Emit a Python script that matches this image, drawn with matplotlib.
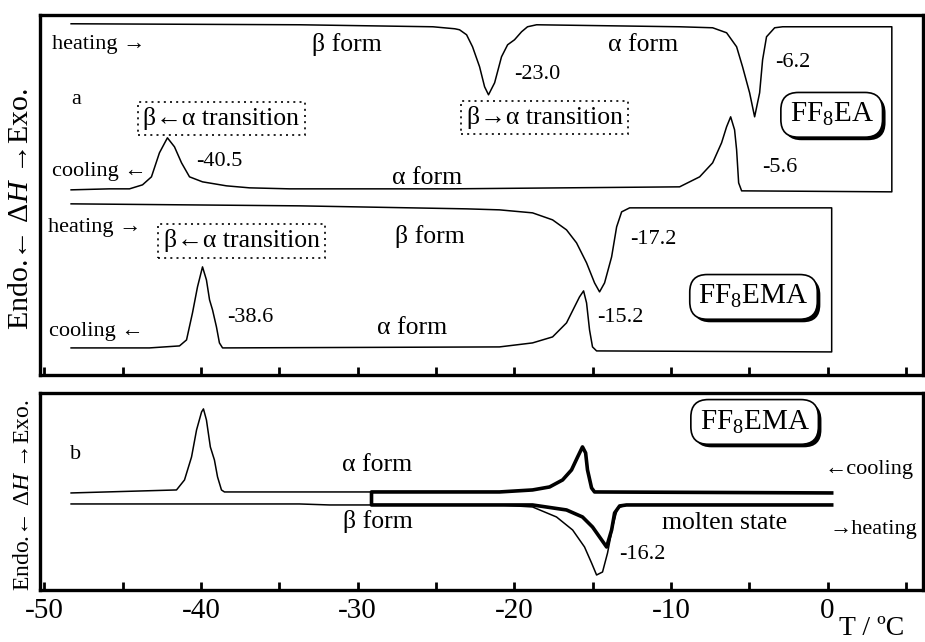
import numpy as np
import matplotlib
matplotlib.use('Agg')
import matplotlib.pyplot as plt
import matplotlib.patheffects as pe
from matplotlib.ticker import MultipleLocator, NullFormatter

plt.rcParams['font.family'] = ['Liberation Serif', 'DejaVu Serif']
plt.rcParams['mathtext.fontset'] = 'custom'
plt.rcParams['mathtext.rm'] = 'Liberation Serif'
plt.rcParams['mathtext.it'] = 'Liberation Serif:italic'
plt.rcParams['axes.unicode_minus'] = False

# ---- panel a : FF8EA (heating then cooling, one loop) ----
ea_heat_T = [-48.3, -33.7, -25.2, -23.8, -23.5, -23.05, -22.67, -22.22, -21.9, -21.65, -21.26,
             -20.82, -20.43, -19.99, -19.54, -19.16, -18.58, -9.45, -7.34, -6.45, -5.81, -5.43,
             -4.98, -4.66, -4.34, -4.15, -3.9, -3.38, -2.87, 4.1]
ea_heat_y = [351, 350, 348, 346, 345, 340, 328, 308, 288, 280, 292,
             318, 330, 335, 343, 348, 350, 348, 347, 342, 328, 308,
             282, 258, 282, 315, 338, 347, 348, 348]
ea_cool_T = [-48.3, -45.85, -44.57, -43.74, -43.17, -42.66, -42.15, -41.7, -41.25, -40.74,
             -39.91, -38.38, -36.91, -34.36, -24.14, -9.45, -8.17, -7.34, -6.77, -6.45,
             -6.19, -5.94, -5.81, -5.68, -5.49, 4.1]
ea_cool_y = [185, 186, 186, 190, 198, 222, 237, 228, 212, 198,
             193, 189, 187, 186, 186, 188, 198, 212, 232, 248,
             258, 245, 225, 192, 184, 183]

# ---- panel a : FF8EMA ----
ema_heat_T = [-48.3, -33.7, -23.05, -20.95, -18.84, -17.56, -16.67, -16.03, -15.39, -14.88,
              -14.56, -14.24, -13.79, -13.47, -13.15, -12.64, -10.73, 0.26]
ema_heat_y = [171, 169, 166, 165, 162, 155, 145, 132, 112, 92,
              83, 92, 118, 148, 163, 167, 167, 167]
ema_cool_T = [-48.3, -43.3, -41.38, -40.93, -40.55, -40.23, -39.91, -39.66, -39.46, -39.27,
              -39.02, -38.83, -38.63, -20.95, -18.84, -17.56, -16.67, -16.16, -15.84, -15.58,
              -15.39, -15.2, -15.01, -14.75, 0.26]
ema_cool_y = [27, 27, 29, 35, 62, 88, 108, 95, 75, 65,
              48, 32, 27, 28, 32, 38, 52, 68, 78, 84,
              72, 45, 28, 24, 23]

# ---- panel b : FF8EMA, full run (thin) and partial run from -29 (bold) ----
b_cool_left_T = [-48.3, -41.57, -41.06, -40.61, -40.29, -39.97, -39.85, -39.66, -39.41,
                 -39.15, -38.95, -38.7, -38.51]
b_cool_left_y = [97, 100, 110, 133, 160, 178, 181, 170, 143, 130, 113, 100, 98]
b_heat_T = [-48.3, -33.72, -31.8, -20.95, -18.84, -17.31, -16.28, -15.52, -15.07, -14.75,
            -14.37, -14.05, -13.73, -13.41, -12.84, 0.26]
b_heat_y = [86, 86, 85, 85, 83, 73, 60, 43, 27, 15, 18, 37, 63, 82, 85, 85]
b2_cool_T = [-29.12, -20.95, -18.84, -17.75, -16.92, -16.35, -15.96, -15.65, -15.45, -15.33,
             -15.07, -14.88, 0.26]
b2_cool_y = [98, 98, 100, 103, 110, 120, 133, 143, 137, 120, 102, 98, 97]
b2_heat_T = [-29.12, -20.95, -18.84, -16.67, -15.65, -15.01, -14.56, -14.11, -13.79, -13.6,
             -13.28, -12.84, 0.26]
b2_heat_y = [85, 85, 85, 80, 73, 63, 53, 43, 60, 77, 84, 85, 85]

x_ticks = [-50, -40, -30, -20, -10, 0]

fig = plt.figure(figsize=(9.25, 6.42), dpi=100)
ax1 = fig.add_axes([0.043, 0.416, 0.955, 0.561])
ax2 = fig.add_axes([0.043, 0.081, 0.955, 0.307])

thin = dict(color='black', lw=1.1, solid_joinstyle='round')
bold = dict(color='black', lw=2.6, solid_joinstyle='round')

# loops: heating forward, cooling backward
ax1.plot(ea_heat_T + ea_cool_T[::-1], ea_heat_y + ea_cool_y[::-1], **thin)
ax1.plot(ema_heat_T + ema_cool_T[::-1], ema_heat_y + ema_cool_y[::-1], **thin)

ax2.plot(b_cool_left_T + b2_cool_T, b_cool_left_y + b2_cool_y, **thin)
ax2.plot(b_heat_T, b_heat_y, **thin)
ax2.plot(b2_cool_T[::-1] + b2_heat_T, b2_cool_y[::-1] + b2_heat_y, **bold)

ylab = 'Endo.\u2190 \u0394$H$ \u2192Exo.'
for ax in (ax1, ax2):
    ax.set_xlim(-50.3, 6.1)
    ax.xaxis.set_major_locator(MultipleLocator(10))
    ax.xaxis.set_minor_locator(MultipleLocator(5))
    ax.tick_params(axis='x', which='both', direction='in', length=6, width=2, top=False)
    ax.tick_params(axis='x', which='major', labelsize=21, pad=6)
    ax.set_yticks([])
    for s in ax.spines.values():
        s.set_linewidth(2.4)

ax1.set_ylim(0, 360)
ax2.set_ylim(0, 197)
ax1.xaxis.set_major_formatter(NullFormatter())
ax2.set_xticks(x_ticks)
ax1.set_ylabel(ylab, fontsize=21.5)
ax2.set_ylabel(ylab, fontsize=17)
ax1.yaxis.set_label_coords(-0.007, 0.46)
ax2.yaxis.set_label_coords(-0.007, 0.48)

fs = 16
fs_form = 18.5


def note(ax, x, y, s, size=fs, ha='left'):
    ax.text(x, y, s, fontsize=size, ha=ha, va='center')


def dotted_box(ax, x, y, s):
    ax.text(x, y, s, fontsize=18.5, ha='center', va='center',
            bbox=dict(boxstyle='square,pad=0.2', fc='white', ec='black',
                      ls=(0, (1.2, 2.5)), lw=1.2))


def badge(ax, x, y, s):
    t = ax.text(x, y, s, fontsize=21, ha='center', va='center',
                bbox=dict(boxstyle='round,pad=0.3,rounding_size=0.6',
                          fc='white', ec='black', lw=1.2))
    # drop shadow to the lower right of the rounded box
    t.get_bbox_patch().set_path_effects([
        pe.SimplePatchShadow(offset=(2.2, -2.2), shadow_rgbFace='black', alpha=1.0),
        pe.Normal()])


# panel a labels
note(ax1, -49.5, 330, 'heating \u2192')
note(ax1, -32.95, 330, '\u03b2 form', fs_form)
note(ax1, -14.05, 330, '\u03b1 form', fs_form)
note(ax1, -19.99, 300, '-23.0')
note(ax1, -3.38, 312, '-6.2')
note(ax1, -48.3, 275, 'a')
dotted_box(ax1, -38.7, 256, '\u03b2\u2190\u03b1 transition')
dotted_box(ax1, -18.07, 257, '\u03b2\u2192\u03b1 transition')
note(ax1, -40.29, 213, '-40.5')
note(ax1, -49.5, 203, 'cooling \u2190')
note(ax1, -27.78, 197, '\u03b1 form', fs_form)
badge(ax1, 0.26, 260, 'FF$_8$EA')
note(ax1, -4.15, 207, '-5.6')

note(ax1, -49.8, 147, 'heating \u2192')
dotted_box(ax1, -37.42, 134, '\u03b2\u2190\u03b1 transition')
note(ax1, -27.65, 138, '\u03b2 form', fs_form)
note(ax1, -12.64, 135, '-17.2')
badge(ax1, -4.73, 78, 'FF$_8$EMA')
note(ax1, -14.69, 57, '-15.2')
note(ax1, -38.31, 57, '-38.6')
note(ax1, -49.68, 43, 'cooling \u2190')
note(ax1, -28.74, 47, '\u03b1 form', fs_form)

# panel b labels
note(ax2, -48.4, 135, 'b')
note(ax2, -31.03, 125, '\u03b1 form', fs_form)
note(ax2, -30.97, 68, '\u03b2 form', fs_form)
badge(ax2, -4.66, 168, 'FF$_8$EMA')
note(ax2, -0.19, 120, '\u2190cooling')
note(ax2, -10.6, 67, 'molten state', fs_form)
note(ax2, 0.13, 60, '\u2192heating')
note(ax2, -13.28, 35, '-16.2')

fig.text(0.978, 0.002, 'T / \u00baC', fontsize=20, ha='right', va='bottom')

fig.savefig('out.png', dpi=100)
